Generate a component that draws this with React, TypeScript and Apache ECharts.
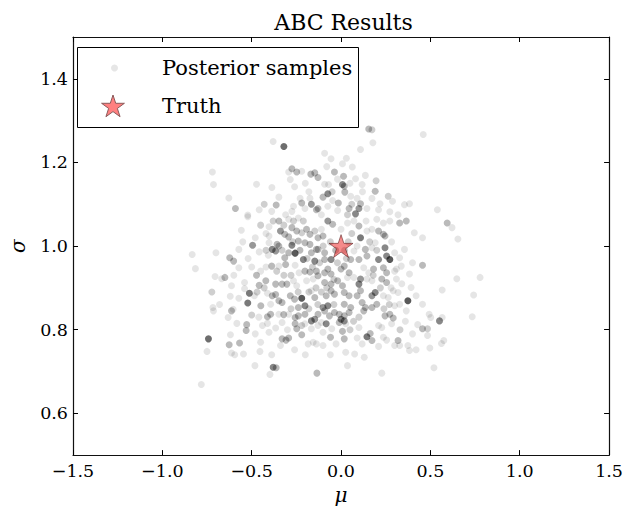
import React, { useEffect, useRef } from "react";
import * as echarts from "echarts";

// [mu, sigma, repeats]
const samplesTop: number[][] = [
  [-0.38,1.25,1],[-0.32,1.238,8],[-0.72,1.177,1],[-0.714,1.147,1],[-0.473,1.148,1],[-0.387,1.14,1],[-0.275,1.185,3],[-0.248,1.177,3],[-0.22,1.179,1],[-0.293,1.177,1],[-0.169,1.172,3],[-0.147,1.175,3],[-0.284,1.159,1],[-0.26,1.142,1],[-0.628,1.115,1],[-0.591,1.09,3],[-0.522,1.074,1],[-0.458,1.087,1],[-0.43,1.1,2],[-0.388,1.083,1],[-0.363,1.098,3],[-0.348,1.117,1],[-0.266,1.095,1],[-0.22,1.103,3],[-0.229,1.114,1],[-0.202,1.09,1],[-0.166,1.1,5],[-0.174,1.114,1],[-0.138,1.087,3],[-0.275,1.083,1],[-0.31,1.075,1],
  [0.155,1.28,3],[0.173,1.278,2],[0.46,1.267,1],[0.178,1.247,1],[0.109,1.231,1],[-0.092,1.222,1],[-0.056,1.209,1],[0.008,1.197,1],[0.063,1.189,1],[-0.037,1.177,3],[0.014,1.167,3],[0.081,1.161,1],[0.136,1.169,1],[0.196,1.156,2],[0.118,1.147,1],[0.008,1.147,6],[0.018,1.143,3],[-0.092,1.148,1],[-0.07,1.147,1],[-0.129,1.164,3],[0.021,1.129,3],[-0.074,1.125,6],[-0.101,1.117,3],[0.191,1.131,3],[0.173,1.114,1],[0.264,1.119,2],[0.288,1.107,1],[0.054,1.119,1],[0.09,1.114,1],[0.109,1.101,3],[0.218,1.101,1],[0.355,1.099,1],[0.383,1.101,1],[0.539,1.087,1],[0.1,1.09,5],[0.145,1.09,1],[-0.015,1.103,3],[-0.047,1.109,1],[0.045,1.09,3],[-0.019,1.085,1],[-0.129,1.09,3],[-0.074,1.095,1],[0.273,1.082,1],[0.319,1.075,1],[0.21,1.087,1],[-0.11,1.075,1],[0.081,1.077,6],[0.036,1.075,2],
];

const samplesMidLeft: number[][] = [
  [-0.522,1.07,1],[-0.558,1.038,1],[-0.403,1.046,1],[-0.348,1.06,3],[-0.293,1.064,1],[-0.266,1.06,2],[-0.239,1.067,1],[-0.211,1.06,2],[-0.339,1.036,5],[-0.315,1.028,3],[-0.293,1.022,3],[-0.275,1.044,3],[-0.248,1.036,3],[-0.22,1.032,2],[-0.193,1.04,3],[-0.174,1.028,3],[-0.147,1.036,2],[-0.403,1.024,1],[-0.358,1.004,3],[-0.403,1.008,1],[-0.495,1.002,5],[-0.572,0.992,1],[-0.7,0.984,1],[-0.833,0.98,1],[-0.815,0.946,1],[-0.623,0.972,3],[-0.601,0.964,3],[-0.572,0.948,1],[-0.458,0.986,1],[-0.407,0.978,1],[-0.385,0.992,6],[-0.366,0.988,5],[-0.348,1.0,3],[-0.315,0.972,3],[-0.275,1.002,6],[-0.257,0.983,10],[-0.293,0.984,3],[-0.211,0.968,6],[-0.239,1.012,3],[-0.202,1.008,3],[-0.174,1.004,3],[-0.147,0.964,6],[-0.166,0.984,3],[-0.138,0.992,3],[-0.388,0.952,3],[-0.348,0.952,1],[-0.31,0.956,3],[-0.257,0.954,1],[-0.202,0.94,3],[-0.174,0.938,3],[-0.235,0.936,1],[-0.705,0.927,1],[-0.65,0.925,3],[-0.668,0.922,1],[-0.473,0.93,3],[-0.458,0.906,3],[-0.421,0.917,3],[-0.366,0.909,3],[-0.33,0.909,3],[-0.303,0.909,3],[-0.723,0.89,2],[-0.613,0.905,1],[-0.54,0.913,1],[-0.513,0.887,7],[-0.54,0.898,1],[-0.522,0.864,7],[-0.572,0.875,1],[-0.485,0.881,1],[-0.412,0.887,1],[-0.385,0.881,3],[-0.366,0.884,3],[-0.449,0.857,3],[-0.394,0.861,1],[-0.348,0.869,3],[-0.33,0.865,3],[-0.284,0.881,3],[-0.26,0.873,3],[-0.22,0.875,10],[-0.202,0.857,6],[-0.239,0.853,3],[-0.147,0.877,3],[-0.166,0.893,1],[-0.248,0.905,1],[-0.266,0.917,1],[-0.193,0.917,1],[-0.156,0.921,1],[-0.138,0.94,3],[-0.717,0.853,1],[-0.604,0.849,1],
];

const samplesMidRight: number[][] = [
  [-0.074,1.06,5],[-0.047,1.052,3],[-0.11,1.04,1],[0,1.04,1],[0.036,1.055,1],[0.072,1.06,1],[0.109,1.02,7],[0.145,1.036,1],[0.173,1.04,1],[0.1,1.048,3],[0.21,1.036,3],[0.237,1.028,3],[0.246,1.024,3],[0.2,1.064,1],[0.237,1.055,1],[0.273,1.06,1],[0.328,1.055,3],[0.365,1.06,3],[0.41,1.032,1],[0.456,1.02,1],[0.594,1.055,3],[0.621,1.044,1],[0.283,1.01,1],[0.191,1.008,1],[0.173,0.996,1],[0.246,0.996,6],[0.255,0.976,6],[0.273,0.968,10],[0.21,0.968,6],[0.355,0.992,1],[0.3,0.984,1],[0.328,0.972,1],[0.136,0.992,3],[0.145,0.976,3],[0.072,0.988,1],[0.09,1.0,1],[0.054,0.968,3],[0.1,0.968,3],[-0.056,0.968,6],[-0.092,0.984,3],[-0.129,0.992,3],[-0.092,0.968,3],[-0.129,1.02,3],[-0.101,1.024,3],[0.456,0.954,3],[0.337,0.952,1],[0.31,0.945,1],[0.237,0.948,3],[0.255,0.936,3],[0.182,0.945,3],[0.127,0.948,1],[0.155,0.936,1],[0.018,0.952,3],[0,0.945,3],[0.045,0.936,3],[-0.074,0.945,3],[-0.092,0.936,3],[-0.056,0.933,3],[-0.129,0.929,3],[0.383,0.933,1],[0.31,0.921,1],[0.228,0.921,3],[0.255,0.913,3],[0.173,0.917,1],[0.145,0.921,1],[0.1,0.909,6],[0.109,0.921,5],[0.072,0.925,1],[0.036,0.925,1],[-0.019,0.917,3],[0.008,0.905,3],[-0.092,0.913,3],[-0.056,0.909,3],[0.392,0.901,1],[0.566,0.895,1],[0.292,0.893,1],[0.319,0.889,1],[0.191,0.889,6],[0.173,0.881,5],[0.237,0.881,1],[0.264,0.877,1],[0.109,0.893,3],[0.09,0.881,3],[0.018,0.889,3],[0.045,0.881,3],[-0.056,0.893,3],[-0.037,0.885,3],[-0.083,0.881,3],[0.42,0.881,1],[0.374,0.869,10],[0.456,0.861,1],[0.328,0.861,1],[0.3,0.857,1],[0.2,0.861,3],[0.173,0.853,3],[0.118,0.865,3],[0.136,0.853,3],[0.018,0.861,3],[0.054,0.853,3],[-0.074,0.857,6],[-0.101,0.853,5],
  [0.654,1.017,1],[0.648,0.922,1],[0.778,0.925,1],[0.742,0.883,1],
];

const samplesBottom: number[][] = [
  [-0.714,0.845,1],[-0.613,0.845,3],[-0.632,0.829,1],[-0.5,0.835,2],[-0.412,0.831,3],[-0.394,0.837,3],[-0.348,0.837,1],[-0.321,0.836,3],[-0.293,0.837,1],[-0.257,0.829,3],[-0.239,0.833,3],[-0.202,0.837,3],[-0.166,0.821,6],[-0.147,0.825,5],[-0.583,0.815,1],[-0.528,0.812,3],[-0.531,0.798,3],[-0.48,0.79,1],[-0.412,0.815,1],[-0.403,0.794,1],[-0.366,0.804,1],[-0.33,0.817,1],[-0.257,0.814,3],[-0.248,0.802,3],[-0.202,0.814,1],[-0.166,0.802,1],[-0.742,0.778,8],[-0.619,0.788,1],[-0.568,0.768,3],[-0.626,0.764,3],[-0.75,0.748,1],[-0.613,0.744,1],[-0.595,0.74,1],[-0.546,0.742,1],[-0.454,0.748,1],[-0.33,0.778,3],[-0.308,0.775,3],[-0.293,0.78,3],[-0.339,0.762,1],[-0.22,0.788,3],[-0.184,0.766,1],[-0.156,0.77,1],[-0.138,0.766,1],[-0.26,0.752,1],[-0.388,0.74,1],[-0.482,0.714,1],[-0.38,0.71,6],[-0.363,0.709,3],[-0.398,0.693,1],[-0.135,0.696,3],[-0.782,0.669,1],
  [-0.129,0.837,3],[-0.092,0.845,3],[-0.065,0.833,3],[-0.037,0.841,3],[-0.01,0.837,3],[0.018,0.833,3],[0.045,0.841,3],[-0.083,0.814,6],[0,0.825,6],[0.018,0.821,5],[-0.01,0.817,3],[-0.11,0.817,1],[-0.129,0.81,1],[-0.052,0.802,1],[0.026,0.814,1],[0.1,0.805,1],[0.127,0.845,3],[0.246,0.833,3],[0.273,0.837,3],[0.292,0.828,3],[0.365,0.845,1],[0.21,0.81,1],[0.228,0.805,1],[0.283,0.814,1],[0.493,0.837,1],[0.502,0.829,1],[0.566,0.829,1],[0.551,0.821,6],[0.429,0.812,1],[0.456,0.802,3],[0.484,0.802,2],[0.484,0.786,1],[0.575,0.774,1],[0.562,0.767,1],[-0.101,0.794,1],[-0.059,0.782,3],[-0.028,0.766,1],[-0.101,0.762,1],[0.008,0.796,3],[0.018,0.778,3],[0.145,0.783,7],[0.163,0.791,3],[0.173,0.774,3],[0.118,0.766,1],[0.21,0.76,1],[0.237,0.782,1],[0.255,0.775,1],[0.319,0.774,3],[0.3,0.762,1],[0.328,0.762,1],[0.374,0.762,1],[0.383,0.75,1],[0.42,0.752,1],[0.497,0.756,1],[0.026,0.746,1],[0.076,0.742,1],[0.13,0.734,1],[0.036,0.714,1],[0.228,0.696,1],[0.52,0.709,1],
  [0.734,0.831,1],
];

// extra samples in the dense core, read from the overlapping cloud
const samplesCore: number[][] = [
  [-0.45,1.05,2],[-0.42,1.03,1],[-0.38,1.06,2],[-0.32,1.05,2],[-0.27,1.01,2],[-0.23,0.99,3],[-0.19,0.97,2],[-0.16,0.95,2],[-0.12,0.96,2],[-0.1,1.0,2],[-0.06,1.01,2],[-0.03,0.99,3],[0.02,0.99,2],[0.04,1.01,2],[0.06,1.03,2],[0.03,0.97,2],[-0.02,0.96,2],[-0.04,0.92,2],[-0.08,0.9,2],[-0.11,0.89,2],[-0.14,0.9,2],[-0.18,0.89,2],[-0.24,0.89,2],[-0.28,0.93,2],[-0.32,0.93,2],[-0.36,0.94,2],[-0.42,0.95,1],[-0.45,0.94,1],[-0.5,0.95,1],[-0.52,0.97,1],[-0.48,1.02,1],[-0.55,1.01,1],[-0.33,0.99,2],[-0.42,0.99,2],[0.14,1.06,1],[0.16,1.01,2],[0.2,0.99,2],[0.18,0.93,2],[0.22,0.9,2],[0.28,0.9,1],[0.3,0.94,1],[0.34,0.91,1],[0.27,0.86,2],[0.24,0.85,2],[0.1,0.83,2],[0.07,0.82,2],[0.05,0.8,2],[0.09,0.78,1],[-0.04,0.86,2],[-0.13,0.86,2],[-0.18,0.85,2],[-0.28,0.85,2],[-0.3,0.8,1],[-0.22,0.81,2],[-0.44,0.81,1],[-0.46,0.83,1],[-0.47,0.89,2],[-0.43,0.9,2],[0.06,1.1,2],[-0.05,1.13,2],[-0.02,1.16,1],[0.05,1.15,1],[0.12,1.13,1],[-0.18,1.13,1],[-0.2,1.15,1],[-0.08,1.19,1],[0.03,1.21,1],[0.4,0.96,1],[0.36,0.82,1],[0.33,0.8,2],[0.4,0.79,1],[-0.06,0.74,1],[-0.2,0.74,1],[-0.45,0.77,1],[-0.68,0.86,1],[-0.62,0.88,1],[-0.6,0.93,1],
];

const truth: number[][] = [[0, 1]];

const muTicks = [-1.5, -1.0, -0.5, 0.0, 0.5, 1.0, 1.5];
const sigmaTicks = [0.6, 0.8, 1.0, 1.2, 1.4];
const legendLabels = ["Posterior samples", "Truth"];

const STAR_D =
  "M0,-100 L22.45,-30.9 L95.1,-30.9 L36.33,11.8 L58.8,80.9 L0,38.2 L-58.8,80.9 L-36.33,11.8 L-95.1,-30.9 L-22.45,-30.9 Z";
const STAR = "path://" + STAR_D;

const FONT = "DejaVu Serif";

const fmt = (v: number) => (v < 0 ? "\u2212" : "") + Math.abs(v).toFixed(1);

let registered = false;

export default function App() {
  const ref = useRef<HTMLDivElement>(null);
  useEffect(() => {
    document.body.style.margin = "0";
    if (!registered) {
      echarts.graphic.registerShape("star5", echarts.graphic.extendPath(STAR_D, {}) as any);
      registered = true;
    }
    const chart = echarts.init(ref.current!, null, { renderer: "svg" });
    const all = [...samplesTop, ...samplesMidLeft, ...samplesMidRight, ...samplesBottom, ...samplesCore];
    const axisLine = { show: true, onZero: false, lineStyle: { color: "#111", width: 1.2 } };
    const tick = (vals: number[]) => ({
      show: true, inside: true, length: 5, customValues: vals,
      lineStyle: { color: "#000", width: 1 },
    });
    const option: any = {
      animation: false,
      backgroundColor: "#fff",
      title: {
        text: "ABC Results", left: 338.5, top: 6, textAlign: "center",
        textStyle: { fontFamily: FONT, fontSize: 22, fontWeight: "normal", color: "#000" },
      },
      grid: { left: 64, right: 13, top: 37, bottom: 53 },
      xAxis: [
        {
          type: "value", min: -1.5, max: 1.5, position: "bottom",
          axisLine, axisTick: tick(muTicks), splitLine: { show: false },
          axisLabel: { customValues: muTicks, formatter: fmt, fontFamily: FONT, fontSize: 17.5, color: "#000", margin: 7 },
          name: "\u03bc", nameLocation: "middle", nameGap: 29,
          nameTextStyle: { fontFamily: FONT, fontStyle: "italic", fontSize: 20, color: "#000" },
        },
        {
          type: "value", min: -1.5, max: 1.5, position: "top",
          axisLine, axisTick: tick(muTicks), splitLine: { show: false }, axisLabel: { show: false },
        },
      ],
      yAxis: [
        {
          type: "value", min: 0.5, max: 1.5, position: "left",
          axisLine, axisTick: tick(sigmaTicks), splitLine: { show: false },
          axisLabel: { customValues: sigmaTicks, formatter: fmt, fontFamily: FONT, fontSize: 17.5, color: "#000", margin: 5 },
          name: "\u03c3", nameLocation: "middle", nameGap: 45, nameRotate: 90,
          nameTextStyle: { fontFamily: FONT, fontStyle: "italic", fontSize: 20, color: "#000" },
        },
        {
          type: "value", min: 0.5, max: 1.5, position: "right",
          axisLine, axisTick: tick(sigmaTicks), splitLine: { show: false }, axisLabel: { show: false },
        },
      ],
      graphic: {
        elements: [
          {
            type: "rect", z: 10, shape: { x: 77.5, y: 47.5, width: 281, height: 80 },
            style: { fill: "#fff", stroke: "#000", lineWidth: 1 },
          },
          {
            type: "circle", z: 11, shape: { cx: 114.5, cy: 68, r: 3.5 },
            style: { fill: "#e6e6e6" },
          },
          {
            type: "text", z: 11, x: 162, y: 68,
            style: { text: legendLabels[0], fill: "#000", fontFamily: FONT, fontSize: 21, verticalAlign: "middle", align: "left" },
          },
          {
            type: "star5", z: 11, x: 113, y: 107, scaleX: 0.12, scaleY: 0.12,
            style: { fill: "#ff8080", stroke: "#8a5a5a", lineWidth: 1, strokeNoScale: true },
          },
          {
            type: "text", z: 11, x: 162, y: 106,
            style: { text: legendLabels[1], fill: "#000", fontFamily: FONT, fontSize: 21, verticalAlign: "middle", align: "left" },
          },
        ],
      },
      series: [
        {
          name: legendLabels[0], type: "scatter", xAxisIndex: 0, yAxisIndex: 0,
          symbol: "circle", symbolSize: 7,
          itemStyle: { color: "#000", opacity: 0.1 },
          data: all.map(([m, s, n]) => ({
            value: [m, s],
            itemStyle: { opacity: 1 - Math.pow(0.9, n) },
          })),
          z: 2,
        },
        {
          name: legendLabels[1], type: "scatter", xAxisIndex: 0, yAxisIndex: 0,
          symbol: STAR, symbolSize: 24, symbolKeepAspect: true,
          itemStyle: { color: "rgba(235,20,20,0.62)", borderColor: "rgba(60,0,0,0.6)", borderWidth: 1 },
          data: truth,
          z: 3,
        },
      ],
    };
    chart.setOption(option);
    return () => chart.dispose();
  }, []);
  return <div ref={ref} style={{ width: 626, height: 510 }} />;
}
